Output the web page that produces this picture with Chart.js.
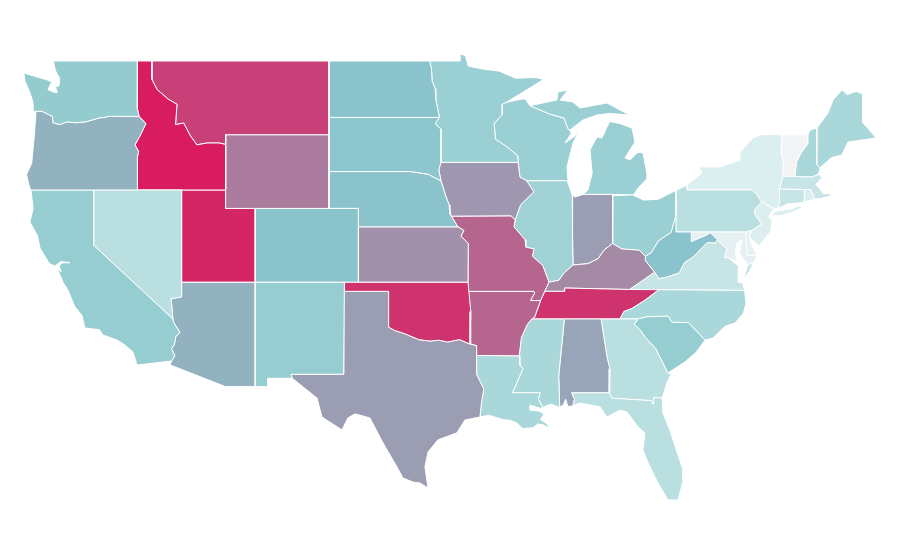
<!DOCTYPE html>
<html><head><meta charset="utf-8"><title>US states map</title>
<style>html,body{margin:0;padding:0;background:#fff}#wrap{width:900px;height:560px}</style>
<script src="https://cdn.jsdelivr.net/npm/chart.js@4"></script></head>
<body><div id="wrap"><canvas id="c" width="900" height="560"></canvas></div>
<script>
// State outlines as [longitude, latitude]
const WA=[[-122.72,49],[-117.03,49],[-117.04,46.42],[-116.92,45.99],[-118.98,46],[-119.3,45.93],[-119.6,45.92],[-120.5,45.7],[-121.2,45.65],[-121.8,45.7],[-122.3,45.55],[-122.75,45.65],[-122.8,46],[-123.2,46.15],[-123.5,46.27],[-124.05,46.27],[-124.1,46.7],[-124.2,47],[-124.35,47.35],[-124.65,47.9],[-124.73,48.35],[-124,48.17],[-123.15,47.97],[-122.85,47.85],[-123.1,47.45],[-122.7,47.3],[-122.45,47.3],[-122.6,47.6],[-122.35,47.65],[-122.3,48.05],[-122.6,48.5]];
const OR=[[-124.05,46.27],[-123.5,46.27],[-123.2,46.15],[-122.8,46],[-122.75,45.65],[-122.3,45.55],[-121.8,45.7],[-121.2,45.65],[-120.5,45.7],[-119.6,45.92],[-119.3,45.93],[-118.98,46],[-116.92,45.99],[-116.46,45.6],[-116.85,44.95],[-117.2,44.45],[-117.05,44.23],[-116.95,44.1],[-117.03,43.8],[-117.03,42],[-124.28,42],[-124.4,42.3],[-124.55,42.84],[-124.2,43.45],[-124.15,43.9],[-124.05,44.7],[-123.98,45.42],[-123.91,46.18]];
const CA=[[-124.25,42],[-120,42],[-120,39],[-114.63,35],[-114.57,34.8],[-114.15,34.27],[-114.43,34.05],[-114.53,33.6],[-114.72,33.4],[-114.5,33],[-114.72,32.72],[-117.06,32.5],[-117.33,33.21],[-117.9,33.6],[-118.42,33.86],[-119.37,34.13],[-119.6,34.42],[-120.59,34.51],[-120.8,35.2],[-121.3,35.7],[-121.74,36.57],[-122.05,36.95],[-122.49,37.77],[-122.2,37.55],[-122.35,37.9],[-122.1,38.05],[-121.6,38.05],[-122.2,38.12],[-122.5,37.95],[-122.55,37.85],[-123,38],[-123.64,38.85],[-123.8,39.5],[-124.32,40.26],[-124.1,41]];
const NV=[[-120,42],[-114.04,42],[-114.04,36.2],[-114.75,36.1],[-114.63,35],[-120,39]];
const ID=[[-117.03,49],[-116.05,49],[-116.05,48],[-115.7,47.45],[-114.95,46.93],[-114.35,46.65],[-114.45,45.55],[-113.9,45.63],[-113.45,44.95],[-113,44.45],[-112.3,44.55],[-111.5,44.55],[-111.05,44.47],[-111.05,42],[-117.03,42],[-117.03,43.8],[-116.95,44.1],[-117.05,44.23],[-117.2,44.45],[-116.85,44.95],[-116.46,45.6],[-116.92,45.99],[-117.04,46.42]];
const MT=[[-116.05,49],[-104.05,49],[-104.05,45],[-111.05,45],[-111.05,44.47],[-111.5,44.55],[-112.3,44.55],[-113,44.45],[-113.45,44.95],[-113.9,45.63],[-114.45,45.55],[-114.35,46.65],[-114.95,46.93],[-115.7,47.45],[-116.05,48]];
const WY=[[-111.05,45],[-104.05,45],[-104.05,41],[-111.05,41]];
const UT=[[-114.04,42],[-111.05,42],[-111.05,41],[-109.05,41],[-109.05,37],[-114.05,37]];
const CO=[[-109.05,41],[-102.05,41],[-102.05,37],[-109.05,37]];
const AZ=[[-114.05,37],[-109.05,37],[-109.05,31.33],[-111.07,31.33],[-114.8,32.5],[-114.72,32.72],[-114.5,33],[-114.72,33.4],[-114.53,33.6],[-114.43,34.05],[-114.15,34.27],[-114.57,34.8],[-114.63,35],[-114.75,36.1],[-114.04,36.2]];
const NM=[[-109.05,37],[-103,37],[-103.05,32],[-106.62,32],[-106.53,31.78],[-108.2,31.78],[-108.2,31.33],[-109.05,31.33]];
const ND=[[-104.05,49],[-97.23,49],[-97.1,48.6],[-97.05,47.9],[-96.85,47.5],[-96.8,46.9],[-96.56,45.94],[-104.05,45.94]];
const SD=[[-104.05,45.94],[-96.56,45.94],[-96.85,45.6],[-96.45,45.3],[-96.45,43.5],[-96.6,43.1],[-96.45,42.49],[-97.3,42.85],[-98.5,43],[-104.05,43]];
const NE=[[-104.05,43],[-98.5,43],[-97.3,42.85],[-96.45,42.49],[-96.25,42],[-96.1,41.6],[-95.9,41.2],[-95.85,40.7],[-95.3,40],[-102.05,40],[-102.05,41],[-104.05,41]];
const KS=[[-102.05,40],[-95.3,40],[-94.9,39.8],[-95.1,39.5],[-94.6,39.1],[-94.62,37],[-102.05,37]];
const OK=[[-103,37],[-94.62,37],[-94.43,35.4],[-94.48,33.64],[-95.2,33.88],[-96,33.75],[-96.6,33.85],[-97.2,33.8],[-97.95,33.88],[-98.9,34.2],[-99.6,34.38],[-100,34.56],[-100,36.5],[-103,36.5]];
const TX=[[-103.04,36.5],[-100,36.5],[-100,34.56],[-99.6,34.38],[-98.9,34.2],[-97.95,33.88],[-97.2,33.8],[-96.6,33.85],[-96,33.75],[-95.2,33.88],[-94.48,33.64],[-94.04,33.55],[-94.04,32],[-93.55,31.2],[-93.7,30.5],[-93.81,29.68],[-94.83,29.52],[-95.37,28.82],[-96.66,28.44],[-97.33,27.78],[-97.54,26.97],[-97.33,25.83],[-97.88,26.1],[-98.35,26.15],[-99.03,26.37],[-99.43,26.97],[-100.38,28.27],[-101.27,29.63],[-102.28,29.85],[-102.76,29.63],[-103.16,28.98],[-104.52,29.68],[-104.86,30.71],[-106.53,31.78],[-106.62,32],[-103.05,32]];
const MN=[[-97.23,49],[-95.15,49],[-95.15,49.38],[-94.8,49.3],[-94.6,48.72],[-93.5,48.55],[-92.5,48.45],[-91.4,48.07],[-90,48.1],[-89.5,48],[-90.9,47.3],[-92.05,46.75],[-92.3,46.65],[-92.3,46.1],[-92.85,45.6],[-92.75,44.75],[-91.9,44.3],[-91.25,43.85],[-91.22,43.5],[-96.45,43.5],[-96.45,45.3],[-96.85,45.6],[-96.56,45.94],[-96.8,46.9],[-96.85,47.5],[-97.05,47.9],[-97.1,48.6]];
const IA=[[-96.45,43.5],[-91.22,43.5],[-91.1,42.7],[-90.65,42.5],[-90.15,41.9],[-91.05,41.2],[-91.42,40.38],[-91.7,40.6],[-95.77,40.58],[-95.9,41.2],[-96.1,41.6],[-96.25,42],[-96.45,42.49],[-96.6,43.1]];
const MO=[[-95.77,40.58],[-91.7,40.6],[-91.42,40.38],[-91.5,40],[-90.75,39.3],[-90.7,38.9],[-90.15,38.8],[-90.25,38.4],[-89.55,37.9],[-89.13,37],[-89.42,36.5],[-89.7,36],[-90.37,36],[-90.1,36.4],[-90.15,36.5],[-94.62,36.5],[-94.62,37],[-94.6,39.1],[-95.1,39.5],[-94.9,39.8],[-95.3,40],[-95.85,40.7]];
const AR=[[-94.62,36.5],[-90.15,36.5],[-90.1,36.4],[-90.37,36],[-89.7,36],[-90.1,35.1],[-90.3,35],[-90.6,34.7],[-91,34],[-91.15,33],[-94.04,33.02],[-94.04,33.55],[-94.48,33.64],[-94.43,35.4]];
const LA=[[-94.04,33.02],[-91.15,33],[-91.1,32.5],[-90.9,32.3],[-91.6,31],[-89.73,31],[-89.85,30.65],[-89.55,30.2],[-89.7,30.15],[-90.4,30.32],[-90.4,30.05],[-89.8,30],[-89.45,29.85],[-89.7,29.55],[-89.25,29.3],[-89.1,29.05],[-89.5,29.25],[-89.9,29.3],[-90.2,29.1],[-90.9,29.05],[-91.3,29.35],[-91.8,29.5],[-92.3,29.55],[-93.2,29.78],[-93.81,29.68],[-93.7,30.5],[-93.55,31.2],[-94.04,32]];
const MS=[[-90.3,35],[-88.2,35],[-88.1,34.9],[-88.47,31.9],[-88.4,30.2],[-89,30.38],[-89.55,30.2],[-89.85,30.65],[-89.73,31],[-91.6,31],[-90.9,32.3],[-91.1,32.5],[-91.15,33],[-91,34],[-90.6,34.7]];
const AL=[[-88.2,35],[-85.6,35],[-85.18,32.87],[-85,32.3],[-85.05,31],[-87.6,31],[-87.4,30.65],[-87.52,30.28],[-87.85,30.25],[-88,30.65],[-88.15,30.35],[-88.4,30.2],[-88.47,31.9],[-88.1,34.9]];
const FL=[[-87.6,31],[-85.05,31],[-84.86,30.7],[-82.2,30.57],[-82.05,30.35],[-82,30.75],[-81.45,30.7],[-81.4,29.9],[-80.95,29],[-80.72,28.44],[-80.04,26.8],[-80.04,26.2],[-80.38,25.18],[-81.06,25.18],[-81.74,26.1],[-82.08,26.65],[-82.49,27.35],[-82.76,27.89],[-82.62,28.8],[-83.1,29.15],[-83.84,29.95],[-84.31,30.06],[-85.2,29.68],[-85.67,30.23],[-87.03,30.44],[-87.52,30.28],[-87.4,30.65]];
const GA=[[-85.6,35],[-83.1,35],[-83.35,34.7],[-83,34.45],[-82.55,33.95],[-81.9,33.4],[-81.4,32.6],[-81.1,32.1],[-80.85,32.03],[-81.15,31.5],[-81.45,30.7],[-82,30.75],[-82.05,30.35],[-82.2,30.57],[-84.86,30.7],[-85.05,31],[-85,32.3],[-85.18,32.87]];
const SC=[[-83.35,34.7],[-83.1,35],[-82.48,35.12],[-81.05,35.15],[-80.8,34.82],[-79.67,34.8],[-78.55,33.85],[-79.15,33.2],[-79.91,32.67],[-81.06,32.07],[-81.1,32.1],[-81.4,32.6],[-81.9,33.4],[-82.55,33.95],[-83,34.45]];
const NC=[[-81.68,36.59],[-75.87,36.55],[-75.77,35.87],[-75.95,35.3],[-76.52,34.78],[-77.2,34.6],[-78,33.97],[-78.55,33.85],[-79.67,34.8],[-80.8,34.82],[-81.05,35.15],[-82.48,35.12],[-83.1,35],[-84.32,35],[-84.05,35.4],[-83.5,35.57],[-82.6,36.03]];
const TN=[[-90.3,35],[-88.2,35],[-85.6,35],[-84.32,35],[-84.05,35.4],[-83.5,35.57],[-82.6,36.03],[-81.68,36.59],[-83.68,36.6],[-88.07,36.68],[-88.07,36.5],[-89.42,36.5],[-89.7,36],[-90.1,35.1]];
const KY=[[-89.42,36.5],[-88.07,36.5],[-88.07,36.68],[-83.68,36.6],[-81.97,37.54],[-82.6,38.17],[-82.6,38.4],[-83,38.73],[-84.2,38.8],[-84.82,39.1],[-85.4,38.73],[-85.8,38.27],[-86.5,38],[-87.5,37.93],[-88.1,37.5],[-88.45,37.1],[-89.13,37]];
const IL=[[-90.65,42.5],[-87.84,42.5],[-87.84,42.38],[-87.55,41.72],[-87.53,39.35],[-87.5,37.93],[-88.1,37.5],[-88.45,37.1],[-89.13,37],[-89.55,37.9],[-90.25,38.4],[-90.15,38.8],[-90.7,38.9],[-90.75,39.3],[-91.5,40],[-91.42,40.38],[-91.05,41.2],[-90.15,41.9]];
const IN=[[-87.55,41.72],[-87.37,41.62],[-86.82,41.76],[-84.8,41.76],[-84.82,39.1],[-85.4,38.73],[-85.8,38.27],[-86.5,38],[-87.5,37.93],[-87.53,39.35]];
const OH=[[-84.8,41.7],[-83.45,41.73],[-82.7,41.45],[-81.7,41.5],[-80.52,41.98],[-80.52,40.64],[-80.85,39.7],[-81.7,39.25],[-82.2,38.6],[-82.6,38.4],[-83,38.73],[-84.2,38.8],[-84.82,39.1]];
const MI_LOWER=[[-86.82,41.76],[-84.8,41.76],[-83.45,41.73],[-83.3,41.84],[-83.1,42.1],[-82.5,42.6],[-82.49,42.92],[-82.76,44.01],[-83.1,44.05],[-83.64,43.63],[-83.98,43.74],[-83.3,44.6],[-83.5,45.36],[-84.3,45.6],[-85,45.72],[-85.2,45.42],[-85.54,44.82],[-85.87,44.88],[-86.35,44.17],[-86.2,42.9],[-86.49,42]];
const MI_UPPER=[[-90.42,46.57],[-90.21,46.61],[-88.59,46.88],[-88.52,47.32],[-87.84,47.43],[-88.38,46.88],[-87.5,46.78],[-87.03,46.45],[-85.2,46.72],[-84.32,46.34],[-83.64,46.07],[-85,46.15],[-85.87,46.07],[-86.82,45.8],[-87.7,45.26],[-87.6,45.1],[-87.85,45.35],[-88.1,45.9],[-89.1,46.13]];
const WI=[[-92.05,46.75],[-91.2,46.9],[-90.75,46.95],[-90.42,46.57],[-89.1,46.13],[-88.1,45.9],[-87.85,45.35],[-87.6,45.1],[-88.04,44.55],[-87.4,44.9],[-87.05,45.3],[-87.5,44.55],[-87.91,43.25],[-87.84,42.5],[-90.65,42.5],[-91.1,42.7],[-91.22,43.5],[-91.25,43.85],[-91.9,44.3],[-92.75,44.75],[-92.85,45.6],[-92.3,46.1],[-92.3,46.65]];
const WV=[[-82.6,38.17],[-81.97,37.54],[-81.68,37.2],[-81.25,37.25],[-80.3,37.5],[-79.95,38.05],[-79.3,38.4],[-78.87,38.77],[-78.4,39.15],[-77.83,39.13],[-77.72,39.32],[-78.2,39.68],[-78.45,39.55],[-79.48,39.2],[-79.48,39.72],[-80.52,39.72],[-80.52,40.64],[-80.85,39.7],[-81.7,39.25],[-82.2,38.6],[-82.6,38.4]];
const VA=[[-83.68,36.6],[-81.68,36.59],[-75.87,36.55],[-76,36.95],[-76.3,37],[-76.3,37.55],[-76.3,37.9],[-76.95,38.3],[-77.25,38.35],[-77.05,38.8],[-77.5,39.12],[-77.72,39.32],[-77.83,39.13],[-78.4,39.15],[-78.87,38.77],[-79.3,38.4],[-79.95,38.05],[-80.3,37.5],[-81.25,37.25],[-81.68,37.2],[-81.97,37.54]];
const VA_SHORE=[[-75.95,37.15],[-75.65,37.95],[-75.25,38.03],[-75.6,37.5]];
const MD=[[-79.48,39.72],[-75.79,39.72],[-75.7,38.46],[-75.05,38.45],[-75.25,38.03],[-75.65,37.95],[-75.9,38.2],[-76.2,38.6],[-76.05,39.3],[-76.4,39.1],[-76.5,38.5],[-76.35,38.1],[-76.95,38.3],[-77.25,38.35],[-77.05,38.8],[-77.5,39.12],[-77.72,39.32],[-78.2,39.68],[-78.45,39.55],[-79.48,39.2]];
const DE=[[-75.79,39.72],[-75.4,39.8],[-75.55,39.5],[-75.4,39.05],[-75.05,38.45],[-75.7,38.46]];
const PA=[[-80.52,41.98],[-79.76,42.27],[-79.76,42],[-75.35,42],[-75.05,41.75],[-74.7,41.36],[-75.15,40.95],[-75.2,40.7],[-74.72,40.15],[-75.4,39.8],[-75.79,39.72],[-80.52,39.72]];
const NY=[[-79.76,42.27],[-78.76,42.92],[-79.03,43.25],[-77.54,43.25],[-76.18,43.63],[-76.18,44.06],[-75.3,44.82],[-74.7,45],[-73.35,45],[-73.4,44],[-73.25,43.6],[-73.28,42.75],[-73.5,42.05],[-73.5,41.3],[-73.65,41],[-73.9,41],[-74.7,41.36],[-75.05,41.75],[-75.35,42],[-79.76,42]];
const NY_LI=[[-74.03,40.6],[-73.75,40.85],[-72.6,40.98],[-72.3,41.15],[-71.87,41.07],[-72.6,40.8],[-73.5,40.6]];
const NJ=[[-74.7,41.36],[-73.9,41],[-74.25,40.5],[-74,40.45],[-74.1,39.75],[-74.9,38.95],[-75.55,39.45],[-75.4,39.8],[-74.72,40.15],[-75.2,40.7],[-75.15,40.95]];
const CT=[[-73.5,42.05],[-71.8,42.02],[-71.85,41.32],[-72.9,41.25],[-73.65,41],[-73.5,41.3]];
const RI=[[-71.8,42.02],[-71.38,42.02],[-71.12,41.5],[-71.85,41.32]];
const MA=[[-73.5,42.05],[-73.28,42.75],[-72.46,42.73],[-71.3,42.7],[-70.85,42.85],[-70.6,42.65],[-71.05,42.3],[-70.65,41.95],[-70.55,41.8],[-70,41.8],[-70.25,42.05],[-69.95,41.7],[-70.65,41.55],[-71.12,41.5],[-71.38,42.02],[-71.8,42.02]];
const VT=[[-73.35,45],[-71.57,45],[-71.6,44.5],[-72.05,44],[-72.35,43.5],[-72.46,42.73],[-73.28,42.75],[-73.25,43.6],[-73.4,44]];
const NH=[[-71.57,45],[-71.43,45.26],[-70.96,45.36],[-70.98,43.4],[-70.76,43.19],[-70.85,42.88],[-71.3,42.7],[-72.46,42.73],[-72.35,43.5],[-72.05,44],[-71.6,44.5]];
const ME=[[-70.96,45.36],[-70.21,46.18],[-69.87,46.88],[-69.27,47.43],[-68.9,47.18],[-68.3,47.35],[-67.84,47.21],[-67.84,45.64],[-67.45,45.3],[-66.96,44.82],[-68.86,44.6],[-69.27,43.9],[-70,43.75],[-70.76,43.19],[-70.98,43.4]];

const stateNames=["Washington","Oregon","California","Nevada","Idaho","Montana","Wyoming","Utah","Colorado","Arizona","New Mexico","North Dakota","South Dakota","Nebraska","Kansas","Oklahoma","Texas","Minnesota","Iowa","Missouri","Arkansas","Louisiana","Mississippi","Alabama","Florida","Georgia","South Carolina","North Carolina","Tennessee","Kentucky","Illinois","Indiana","Ohio","Michigan","Michigan","Wisconsin","West Virginia","Virginia","Virginia","Maryland","Delaware","Pennsylvania","New York","New York","New Jersey","Connecticut","Rhode Island","Massachusetts","Vermont","New Hampshire","Maine"];
const stateOutlines=[WA,OR,CA,NV,ID,MT,WY,UT,CO,AZ,NM,ND,SD,NE,KS,OK,TX,MN,IA,MO,AR,LA,MS,AL,FL,GA,SC,NC,TN,KY,IL,IN,OH,MI_LOWER,MI_UPPER,WI,WV,VA,VA_SHORE,MD,DE,PA,NY,NY_LI,NJ,CT,RI,MA,VT,NH,ME];
const stateValues=[45,55,44,26,100,89,71,97,50,55,44,50,48,50,65,93,61,42,63,78,78,34,34,59,26,26,44,34,93,67,39,61,42,42,42,42,50,20,20,6,6,26,10,10,10,20,10,20,0,34,34];

const valueStops=[0,10,20,26,34,42,44,50,100];
const colourStops=[[243,244,245],[219,238,240],[199,229,231],[185,223,225],[170,215,217],[154,207,211],[150,205,208],[138,195,203],[217,27,95]];
function colourFor(v){
  let i=0; while(i<valueStops.length-2&&v>valueStops[i+1])i++;
  const t=(v-valueStops[i])/(valueStops[i+1]-valueStops[i]);
  const c=colourStops[i].map((a,k)=>Math.round(a+(colourStops[i+1][k]-a)*t));
  return `rgb(${c[0]},${c[1]},${c[2]})`;
}
const datasets=stateOutlines.map((ring,i)=>({
  label:stateNames[i],
  data:ring.concat([ring[0]]).map(p=>({x:p[0],y:p[1]})),
  showLine:true,fill:'shape',tension:0,
  backgroundColor:colourFor(stateValues[i]),
  borderColor:'#ffffff',borderWidth:1,borderJoinStyle:'round',
  pointRadius:0,pointHoverRadius:0
}));
new Chart(document.getElementById('c'),{
  type:'scatter',
  data:{datasets},
  options:{
    responsive:false,animation:false,devicePixelRatio:1,
    layout:{padding:0},
    plugins:{legend:{display:false},tooltip:{enabled:false},title:{display:false}},
    scales:{
      x:{type:'linear',min:-126.35,max:-65.33,display:false},
      y:{type:'linear',min:21.92,max:52.31,display:false}
    }
  }
});
</script></body></html>
